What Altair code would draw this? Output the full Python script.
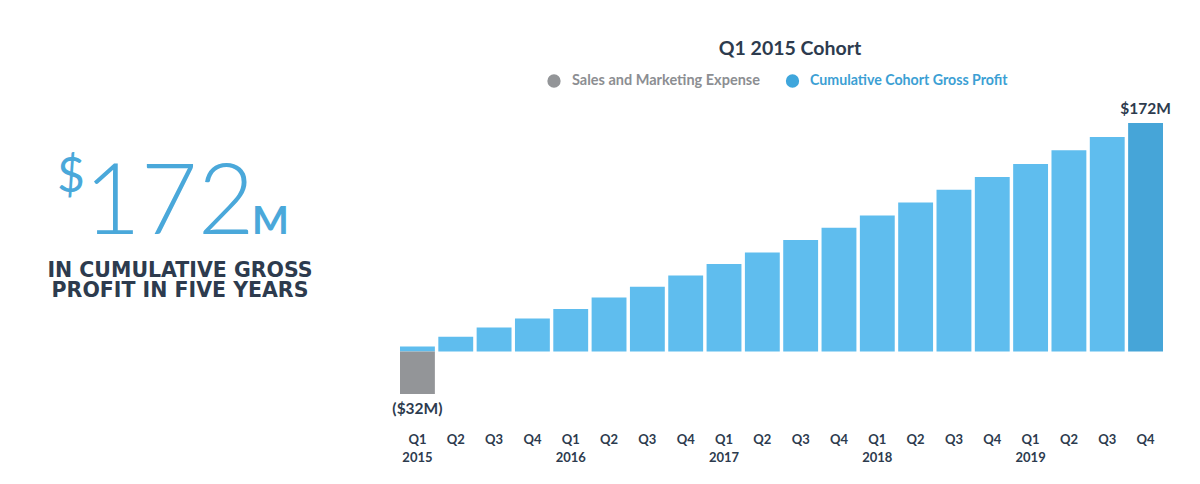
import altair as alt
import pandas as pd

# ---- data ----
quarters = ["Q1", "Q2", "Q3", "Q4"] * 5
years = ["2015", "2016", "2017", "2018", "2019"]
profit = [3.8, 11.1, 18.1, 24.9, 31.9, 40.7, 48.8, 57.2, 65.8, 74.5,
          84.0, 93.1, 102.4, 112.2, 121.8, 131.3, 141.1, 151.4, 161.4, 172.0]
expense = [-32.0]          # Q1 2015 only
series_names = ["Sales and Marketing Expense", "Cumulative Cohort Gross Profit"]
title_text = "Q1 2015 Cohort"
headline_parts = ["$", "172", "M"]
subline = ["IN CUMULATIVE GROSS", "PROFIT IN FIVE YEARS"]

keys = [f"{q} {years[i // 4]}" for i, q in enumerate(quarters)]
last = [False] * (len(keys) - 1) + [True]

df = pd.DataFrame({"key": keys, "profit": profit, "last": last})
df_exp = pd.DataFrame({"key": keys[:1], "expense": expense,
                       "lab": [f"(${int(-expense[0])}M)"]})
df_top = pd.DataFrame({"key": keys[-1:], "profit": profit[-1:],
                       "lab": [f"${int(profit[-1])}M"]})

DARK = "#2D3B4E"
BLUE = "#5FBDEE"
BLUE_D = "#46A5D8"
GRAY = "#939598"
FONT = "Lato"

xenc = alt.X(
    "key:N", sort=keys, title=None,
    scale=alt.Scale(paddingInner=0.09, paddingOuter=0),
    axis=alt.Axis(
        domain=False, ticks=False, labelAngle=0, labelPadding=39,
        labelFont=FONT, labelFontSize=13, labelFontWeight="bold",
        labelColor=DARK, labelBaseline="top", labelLineHeight=18,
        labelExpr="substring(datum.label,0,2)=='Q1' ? split(datum.label,' ') : substring(datum.label,0,2)",
    ),
)
yscale = alt.Scale(domain=[-32, 172], nice=False)

base = alt.Chart(df)
bars = base.mark_bar(stroke=None).encode(
    x=xenc,
    y=alt.Y("profit:Q", scale=yscale, axis=None),
    color=alt.condition("datum.last", alt.value(BLUE_D), alt.value(BLUE)),
)
exp_bar = alt.Chart(df_exp).mark_bar(color=GRAY).encode(
    x=alt.X("key:N", sort=keys),
    y=alt.Y("expense:Q", scale=yscale),
)
exp_lab = alt.Chart(df_exp).mark_text(
    font=FONT, fontSize=15.5, fontWeight="bold", color=DARK,
    baseline="top", dy=8,
).encode(x=alt.X("key:N", sort=keys), y=alt.Y("expense:Q", scale=yscale), text="lab:N")
top_lab = alt.Chart(df_top).mark_text(
    font=FONT, fontSize=15.5, fontWeight="bold", color=DARK,
    baseline="alphabetic", dy=-9,
).encode(x=alt.X("key:N", sort=keys), y=alt.Y("profit:Q", scale=yscale), text="lab:N")


def note(text, x, y, **kw):
    return alt.Chart(pd.DataFrame({"t": [0]})).mark_text(**kw).encode(
        text=alt.value(text), x=alt.value(x), y=alt.value(y))


def dot(x, y, color):
    return alt.Chart(pd.DataFrame({"t": [0]})).mark_point(
        shape="circle", filled=True, opacity=1, size=177, color=color
    ).encode(x=alt.value(x), y=alt.value(y))


# origin of plot area is at page (400, 123.3)
title = note(title_text, 390, -68, font=FONT, fontSize=19.5, fontWeight="bold",
             color=DARK, align="center", baseline="alphabetic")
leg1_dot = dot(154, -42, GRAY)
leg1_txt = note(series_names[0], 172, -42, font=FONT, fontSize=14.5, fontWeight="bold",
                color="#8C8E92", align="left", baseline="middle")
leg2_dot = dot(392.5, -42, "#3FA6DC")
leg2_txt = note(series_names[1], 410, -42, font=FONT, fontSize=14.2, fontWeight="bold",
                color="#3C9FD4", align="left", baseline="middle")

head_dollar = note(headline_parts[0], -343, 69, font=FONT, fontSize=48, fontWeight="normal",
                   color="#4AA8DA", align="left", baseline="alphabetic")
head_num = note(headline_parts[1], -316, 111, font=FONT, fontSize=98, fontWeight=300,
                color="#4AA8DA", align="left", baseline="alphabetic")
head_m = note(headline_parts[2], -148, 111, font=FONT, fontSize=39, fontWeight="bold",
              color="#4AA8DA", align="left", baseline="alphabetic")
sub = note(subline, -220, 153.5, font="DejaVu Sans", fontSize=20.5, fontWeight="bold",
           color=DARK, align="center", baseline="alphabetic", lineHeight=20.5)

chart = alt.layer(
    bars, exp_bar, exp_lab, top_lab, title, leg1_dot, leg1_txt, leg2_dot, leg2_txt,
    head_dollar, head_num, head_m, sub,
).properties(
    width=763, height=271,
    padding={"left": 392, "top": 115, "right": 29, "bottom": 70},
    autosize=alt.AutoSizeParams(type="none"),
).configure_view(stroke=None)

chart.save("out.html", embed_options={"renderer": "svg", "actions": False})
